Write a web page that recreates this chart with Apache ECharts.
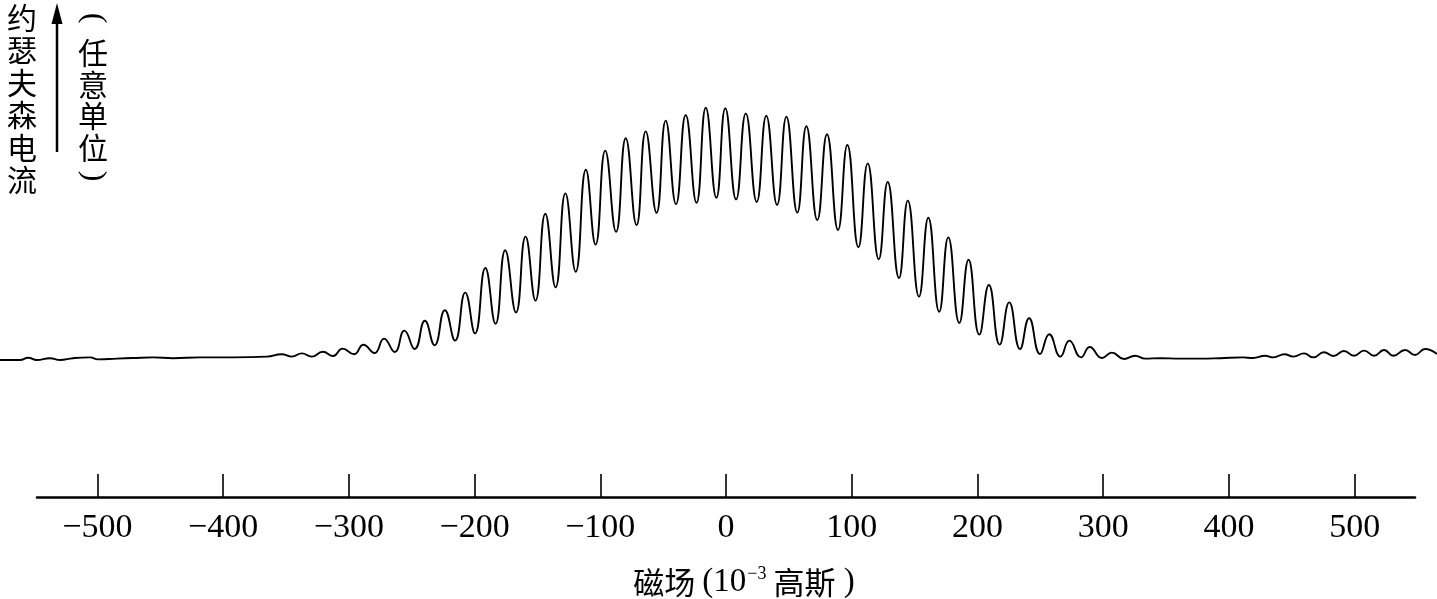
<!DOCTYPE html>
<html>
<head>
<meta charset="utf-8">
<script src="https://cdn.jsdelivr.net/npm/echarts@6/dist/echarts.min.js"></script>
<style>
html,body{margin:0;padding:0;background:#fff;}
#chart{width:1437px;height:599px;}
</style>
</head>
<body>
<div id="chart"></div>
<script>
// Magnetic field (10^-3 gauss) at the read-off points of the trace
const fieldValues = [
  -577.6,-561.7,-555.1,-548.4,-537.8,-529.8,-519.5,-506.0,-499.6,-484.5,-471.8,-455.8,-439.9,-418.5,-392.2,-365.2,-353.5,-345.5,
  -337.5,-329.6,-320.8,-312.6,-305.1,-295.9,-288.5,-279.6,-272.1,-263.6,-255.9,-247.7,-239.6,-231.9,-223.7,-215.6,-207.5,-199.7,
  -191.5,-183.4,-175.7,-167.1,-159.5,-151.6,-143.8,-135.6,-127.8,-119.6,-111.5,-103.8,-96.1,-87.5,-79.8,-71.2,-63.9,-55.3,
  -48.0,-39.8,-32.1,-23.5,-16.1,-7.7,-0.6,8.0,15.7,24.4,32.0,40.6,48.0,56.7,63.9,72.6,80.3,89.1,96.5,105.3,112.7,121.5,
  128.6,137.6,144.6,153.5,160.9,169.6,176.8,185.6,192.9,201.5,209.1,217.7,225.3,233.9,241.1,249.8,257.1,266.0,273.1,282.4,
  289.3,299.1,306.9,316.6,325.4,333.3,345.3,361.2,377.1,393.0,411.3,419.3,428.8,435.4,444.2,451.3,459.8,467.2,475.7,483.1,
  491.6,499.6,507.6,515.5,523.5,530.9,540.2,548.1,556.1,565.6
];
// Josephson current (arbitrary units) at the same points
const currentValues = [
  34.25,34.25,34.8,34.25,34.7,34.25,34.7,34.9,34.4,34.6,34.75,34.9,34.7,34.9,34.9,35.1,35.7,35.1,
  35.9,35.1,36.3,35.25,37.1,35.7,38.05,36.0,39.6,36.25,41.6,37.0,44.05,37.95,46.7,39.1,51.1,40.9,
  57.25,43.3,61.7,46.1,65.1,49.1,70.8,52.4,75.9,56.3,81.8,63.1,86.6,66.3,89.7,68.0,91.4,71.05,
  94.1,73.2,95.5,73.55,97.3,74.8,97.2,74.4,95.9,73.75,95.3,73.0,95.1,71.1,92.7,69.25,90.7,66.75,88.0,62.45,83.4,59.45,
  78.75,54.75,74.1,50.1,69.8,46.3,64.9,43.5,59.3,40.6,53.0,38.1,48.65,37.0,44.7,35.75,40.7,35.1,39.1,34.9,
  37.5,34.75,36.1,34.5,35.3,34.6,34.7,34.6,34.6,34.7,34.9,34.75,35.3,34.9,35.7,35.1,35.9,34.9,36.2,35.25,
  36.5,35.3,36.6,35.3,36.75,35.3,36.75,35.5,37.0,35.75
];
const tickValues = [-500,-400,-300,-200,-100,0,100,200,300,400,500];
const yAxisTitle = '约瑟夫森电流';
const yAxisUnit = '任意单位';

const chart = echarts.init(document.getElementById('chart'), null, {renderer:'canvas'});
const seriesData = fieldValues.map((x,i)=>[x, currentValues[i]]);
const cjk = '"Noto Sans CJK SC"';
const serif = '"Liberation Serif"';

chart.setOption({
  animation:false,
  backgroundColor:'#fff',
  grid:[
    {left:0,right:0,top:97,bottom:102,containLabel:false},
    {left:37,right:22,top:97,bottom:102,containLabel:false}
  ],
  xAxis:[
    {type:'value',gridIndex:0,min:-577.6,max:565.6,show:false},
    {type:'value',gridIndex:1,min:-548,max:548,
      axisLine:{show:true,onZero:false,lineStyle:{color:'#000',width:2.6}},
      axisTick:{show:true,inside:true,length:23,customValues:tickValues,lineStyle:{color:'#000',width:1.6}},
      axisLabel:{show:true,customValues:tickValues,margin:14,color:'#000',fontFamily:serif,fontSize:34,
        formatter:v=>String(v).replace('-','\u2212')},
      splitLine:{show:false}
    }
  ],
  yAxis:[
    {type:'value',gridIndex:0,min:0,max:100,show:false},
    {type:'value',gridIndex:1,min:0,max:100,show:false}
  ],
  series:[{
    type:'line', xAxisIndex:0, yAxisIndex:0, data:seriesData, smooth:0.5, showSymbol:false,
    lineStyle:{color:'#000',width:1.9}
  }],
  graphic:[
    {type:'text',x:22,y:1,style:{text:yAxisTitle.split('').join('\n'),fill:'#000',
      fontFamily:cjk,fontSize:30,lineHeight:32.5,textAlign:'center'}},
    {type:'line',shape:{x1:57,y1:152,x2:57,y2:20},style:{stroke:'#000',lineWidth:2.5}},
    {type:'polygon',shape:{points:[[57,3],[51.5,24],[62.5,24]]},style:{fill:'#000'}},
    {type:'text',x:93,y:18,rotation:-Math.PI/2,style:{text:'(',fill:'#000',fontFamily:serif,fontSize:32,
      textAlign:'center',textVerticalAlign:'middle'}},
    {type:'text',x:93,y:37,style:{text:yAxisUnit.split('').join('\n'),fill:'#000',
      fontFamily:cjk,fontSize:30,lineHeight:31.5,textAlign:'center'}},
    {type:'text',x:93,y:176,rotation:-Math.PI/2,style:{text:')',fill:'#000',fontFamily:serif,fontSize:32,
      textAlign:'center',textVerticalAlign:'middle'}},
    {type:'text',x:744,y:582,style:{
      text:'{c|磁场 }{n|(10}{s|−3}{c| 高斯}{n| )}',
      textAlign:'center',textVerticalAlign:'middle',
      rich:{
        c:{fontFamily:cjk,fontSize:31,fill:'#000'},
        n:{fontFamily:serif,fontSize:33,fill:'#000'},
        s:{fontFamily:serif,fontSize:18,fill:'#000',verticalAlign:'top',padding:[0,0,13,1]}
      }}}
  ]
});
</script>
</body>
</html>
